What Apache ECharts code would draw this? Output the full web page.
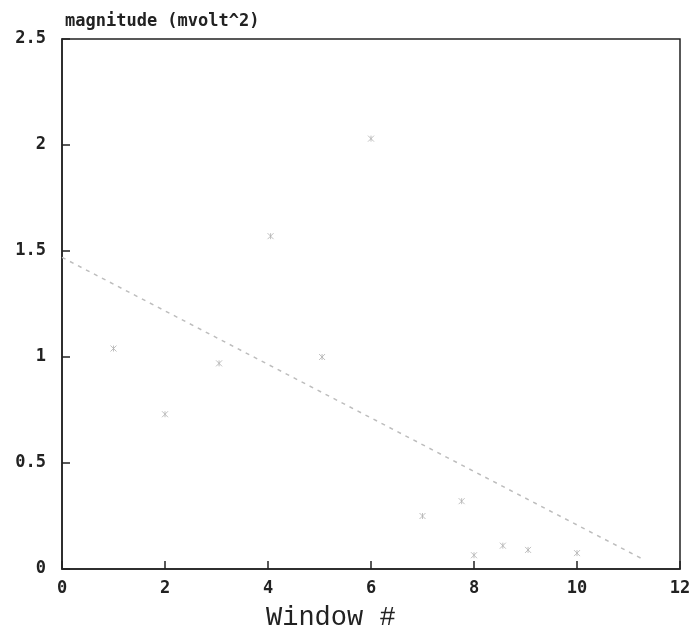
<!DOCTYPE html>
<html><head><meta charset="utf-8">
<script src="https://cdn.jsdelivr.net/npm/echarts@6/dist/echarts.min.js"></script>
<style>html,body{margin:0;padding:0;background:#fff}#c{width:694px;height:640px}</style>
</head><body><div id="c"></div>
<script>
var windowX = [1, 2, 3.05, 4.05, 5.05, 6, 7, 7.76, 8, 8.56, 9.05, 10];
var magnitudeY = [1.04, 0.73, 0.97, 1.57, 1.0, 2.03, 0.25, 0.32, 0.065, 0.11, 0.09, 0.075];
var fitX = [0, 11.25];
var fitY = [1.47, 0.05];
var xTicks = [0, 2, 4, 6, 8, 10, 12];
var yTicks = [0, 0.5, 1, 1.5, 2, 2.5];

var pts = windowX.map(function(x, i){ return [x, magnitudeY[i]]; });
var fit = fitX.map(function(x, i){ return [x, fitY[i]]; });
var chart = echarts.init(document.getElementById('c'));
var labelFont = {fontFamily:'DejaVu Sans Mono', fontWeight:'bold', fontSize:17, color:'#222'};
chart.setOption({
  animation:false,
  backgroundColor:'#fff',
  grid:{left:62, right:14, top:39, bottom:71, show:true, borderColor:'#222', borderWidth:1.5},
  title:[
    {text:'magnitude (mvolt^2)', left:60, top:8, textStyle:{fontFamily:'DejaVu Sans Mono', fontWeight:'bold', fontSize:17, color:'#222'}},
    {text:'Window #', left:261, top:599, textStyle:{fontFamily:'Liberation Mono', fontWeight:'normal', fontSize:27, color:'#222'}}
  ],
  xAxis:{type:'value', min:0, max:12, interval:2,
    axisLine:{show:true, onZero:false, lineStyle:{color:'#222', width:1.5}},
    axisTick:{show:true, inside:true, length:8, lineStyle:{color:'#222', width:1.5}},
    axisLabel:Object.assign({margin:11, formatter:function(v){return xTicks.indexOf(v)>=0?String(v):'';}}, labelFont),
    splitLine:{show:false}},
  yAxis:{type:'value', min:0, max:2.5, interval:0.5,
    axisLine:{show:true, onZero:false, lineStyle:{color:'#222', width:1.5}},
    axisTick:{show:true, inside:true, length:8, lineStyle:{color:'#222', width:1.5}},
    axisLabel:Object.assign({margin:16, formatter:function(v){return yTicks.indexOf(v)>=0?String(v):'';}}, labelFont),
    splitLine:{show:false}},
  series:[
    {type:'line', data:fit, showSymbol:false, symbol:'none',
      lineStyle:{color:'#bdbdbd', width:1.5, type:[4,5]}},
    {type:'scatter', data:pts, symbol:'path://M0,0L10,10M10,0L0,10M5,0L5,10', symbolSize:6,
      itemStyle:{color:'none', borderColor:'#b0b0b0', borderWidth:1}}
  ]
});
</script></body></html>
